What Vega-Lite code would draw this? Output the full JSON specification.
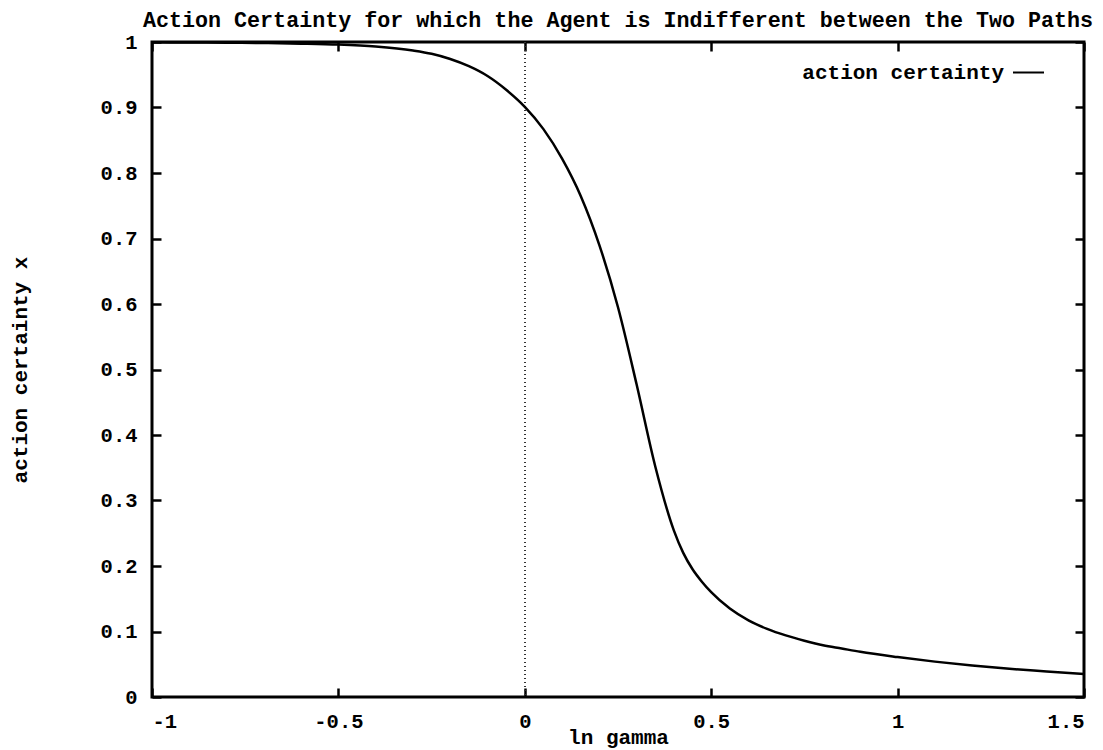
{
  "$schema": "https://vega.github.io/schema/vega-lite/v6.json",
  "width": 932,
  "height": 655,
  "autosize": "none",
  "padding": {"left": 152, "top": 42, "right": 19, "bottom": 53},
  "background": "white",
  "title": {
    "text": "Action Certainty for which the Agent is Indifferent between the Two Paths",
    "font": "Liberation Mono",
    "fontSize": 21.7,
    "fontWeight": "bold",
    "color": "black",
    "anchor": "middle",
    "offset": 0
  },
  "config": {
    "view": {"stroke": "black", "strokeWidth": 3},
    "axis": {
      "domain": false,
      "grid": false,
      "tickColor": "black",
      "tickWidth": 2.5,
      "tickSize": -9,
      "labelFont": "Liberation Mono",
      "labelFontSize": 20.5,
      "labelFontWeight": "bold",
      "labelColor": "black",
      "titleFont": "Liberation Mono",
      "titleFontSize": 21,
      "titleFontWeight": "bold",
      "titleColor": "black"
    },
    "legend": {
      "orient": "none",
      "legendX": 860,
      "legendY": 14,
      "title": null,
      "padding": 0,
      "symbolType": "stroke",
      "symbolSize": 961,
      "symbolStrokeWidth": 2,
      "labelAlign": "right",
      "labelOffset": -41,
      "labelLimit": 0,
      "labelFont": "Liberation Mono",
      "labelFontSize": 21,
      "labelFontWeight": "bold",
      "labelColor": "black"
    }
  },
  "data": {
    "values": [
      {"ln_gamma": -1.0, "certainty": 0.9995, "series": "action certainty"},
      {"ln_gamma": -0.9, "certainty": 0.9993, "series": "action certainty"},
      {"ln_gamma": -0.8, "certainty": 0.999, "series": "action certainty"},
      {"ln_gamma": -0.7, "certainty": 0.9985, "series": "action certainty"},
      {"ln_gamma": -0.6, "certainty": 0.9975, "series": "action certainty"},
      {"ln_gamma": -0.5, "certainty": 0.996, "series": "action certainty"},
      {"ln_gamma": -0.4, "certainty": 0.993, "series": "action certainty"},
      {"ln_gamma": -0.3, "certainty": 0.987, "series": "action certainty"},
      {"ln_gamma": -0.25, "certainty": 0.982, "series": "action certainty"},
      {"ln_gamma": -0.2, "certainty": 0.974, "series": "action certainty"},
      {"ln_gamma": -0.15, "certainty": 0.963, "series": "action certainty"},
      {"ln_gamma": -0.1, "certainty": 0.948, "series": "action certainty"},
      {"ln_gamma": -0.05, "certainty": 0.927, "series": "action certainty"},
      {"ln_gamma": 0.0, "certainty": 0.901, "series": "action certainty"},
      {"ln_gamma": 0.05, "certainty": 0.867, "series": "action certainty"},
      {"ln_gamma": 0.1, "certainty": 0.822, "series": "action certainty"},
      {"ln_gamma": 0.15, "certainty": 0.765, "series": "action certainty"},
      {"ln_gamma": 0.2, "certainty": 0.69, "series": "action certainty"},
      {"ln_gamma": 0.25, "certainty": 0.595, "series": "action certainty"},
      {"ln_gamma": 0.3, "certainty": 0.477, "series": "action certainty"},
      {"ln_gamma": 0.35, "certainty": 0.352, "series": "action certainty"},
      {"ln_gamma": 0.4, "certainty": 0.254, "series": "action certainty"},
      {"ln_gamma": 0.425, "certainty": 0.22, "series": "action certainty"},
      {"ln_gamma": 0.45, "certainty": 0.195, "series": "action certainty"},
      {"ln_gamma": 0.475, "certainty": 0.176, "series": "action certainty"},
      {"ln_gamma": 0.5, "certainty": 0.16, "series": "action certainty"},
      {"ln_gamma": 0.55, "certainty": 0.135, "series": "action certainty"},
      {"ln_gamma": 0.6, "certainty": 0.117, "series": "action certainty"},
      {"ln_gamma": 0.65, "certainty": 0.104, "series": "action certainty"},
      {"ln_gamma": 0.7, "certainty": 0.094, "series": "action certainty"},
      {"ln_gamma": 0.75, "certainty": 0.086, "series": "action certainty"},
      {"ln_gamma": 0.8, "certainty": 0.079, "series": "action certainty"},
      {"ln_gamma": 0.85, "certainty": 0.074, "series": "action certainty"},
      {"ln_gamma": 0.9, "certainty": 0.069, "series": "action certainty"},
      {"ln_gamma": 1.0, "certainty": 0.061, "series": "action certainty"},
      {"ln_gamma": 1.1, "certainty": 0.054, "series": "action certainty"},
      {"ln_gamma": 1.2, "certainty": 0.048, "series": "action certainty"},
      {"ln_gamma": 1.3, "certainty": 0.043, "series": "action certainty"},
      {"ln_gamma": 1.4, "certainty": 0.039, "series": "action certainty"},
      {"ln_gamma": 1.5, "certainty": 0.035, "series": "action certainty"}
    ]
  },
  "layer": [
    {
      "mark": {"type": "rule", "strokeDash": [1, 3], "color": "#333333", "strokeWidth": 1.2},
      "encoding": {
        "x": {"datum": 0, "type": "quantitative", "axis": null, "scale": {"domain": [-1, 1.5], "nice": false, "zero": false}}
      }
    },
    {
      "mark": {"type": "line", "opacity": 0},
      "encoding": {
        "x": {"field": "ln_gamma", "type": "quantitative", "scale": {"domain": [-1, 1.5], "nice": false, "zero": false},
              "axis": {"orient": "top", "labels": false, "title": null, "values": [-1, -0.5, 0, 0.5, 1, 1.5]}},
        "y": {"field": "certainty", "type": "quantitative", "scale": {"domain": [0, 1], "nice": false},
              "axis": {"orient": "right", "labels": false, "title": null, "values": [0, 0.1, 0.2, 0.3, 0.4, 0.5, 0.6, 0.7, 0.8, 0.9, 1]}}
      }
    },
    {
      "mark": {"type": "line", "strokeWidth": 2.5, "interpolate": "monotone"},
      "encoding": {
        "x": {"field": "ln_gamma", "type": "quantitative", "scale": {"domain": [-1, 1.5], "nice": false, "zero": false},
              "axis": {"orient": "bottom", "title": "ln gamma", "values": [-1, -0.5, 0, 0.5, 1, 1.5],
                       "format": "~g", "labelExpr": "replace(datum.label, '\u2212', '-')",
                       "labelPadding": 33, "labelBaseline": "middle",
                       "titleX": 466, "titleY": 40, "titleBaseline": "middle"}},
        "y": {"field": "certainty", "type": "quantitative", "scale": {"domain": [0, 1], "nice": false},
              "axis": {"orient": "left", "title": "action certainty x", "values": [0, 0.1, 0.2, 0.3, 0.4, 0.5, 0.6, 0.7, 0.8, 0.9, 1],
                       "format": "~g", "labelPadding": 24,
                       "titleX": -132, "titleY": 327.5, "titleBaseline": "middle"}},
        "color": {"field": "series", "type": "nominal", "scale": {"range": ["black"]}}
      }
    }
  ],
  "resolve": {"axis": {"x": "independent", "y": "independent"}}
}
